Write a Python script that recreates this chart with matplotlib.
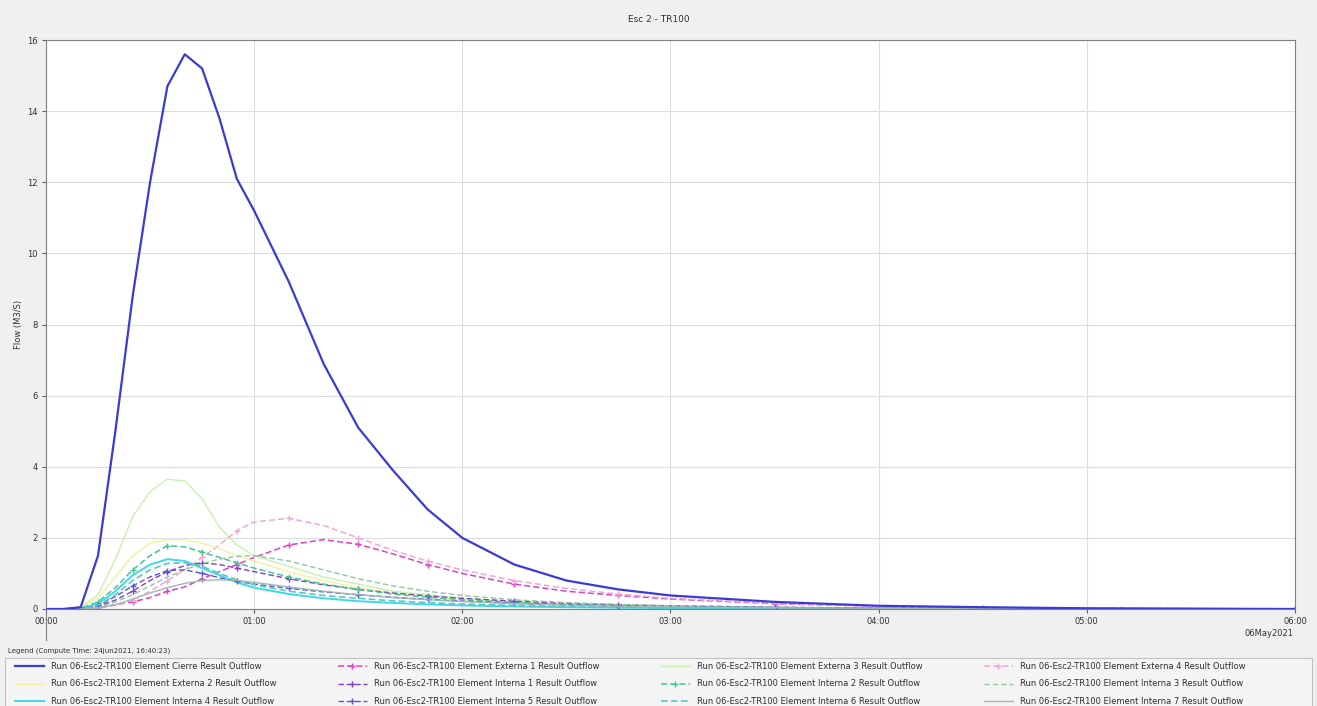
import numpy as np
import matplotlib
matplotlib.use("Agg")
import matplotlib.pyplot as plt
from matplotlib.lines import Line2D
from matplotlib.patches import Rectangle

# time axis in minutes from 00:00
minutes = [0, 5, 10, 15, 20, 25, 30, 35, 40, 45, 50, 55, 60, 70, 80, 90, 100,
           110, 120, 135, 150, 165, 180, 210, 240, 270, 300, 360]

cierre = [0, 0, 0.05, 1.5, 5.0, 8.8, 12.0, 14.7, 15.6, 15.2, 13.8, 12.1, 11.2, 9.2,
          6.9, 5.1, 3.9, 2.8, 2.0, 1.25, 0.8, 0.55, 0.38, 0.2, 0.09, 0.05, 0.02, 0]
externa1 = [0, 0, 0, 0.03, 0.12, 0.2, 0.32, 0.5, 0.62, 0.85, 1.05, 1.25, 1.45, 1.8,
            1.95, 1.82, 1.55, 1.25, 1.0, 0.7, 0.5, 0.38, 0.28, 0.15, 0.08, 0.04, 0.02, 0]
externa2 = [0, 0, 0.05, 0.3, 0.9, 1.5, 1.85, 1.95, 1.95, 1.85, 1.7, 1.5, 1.35, 1.05,
            0.8, 0.6, 0.45, 0.35, 0.27, 0.18, 0.12, 0.08, 0.06, 0.03, 0.01, 0, 0, 0]
externa3 = [0, 0, 0.05, 0.4, 1.4, 2.6, 3.3, 3.65, 3.6, 3.1, 2.3, 1.8, 1.5, 1.2,
            0.9, 0.7, 0.5, 0.4, 0.3, 0.2, 0.14, 0.1, 0.07, 0.04, 0.02, 0.01, 0, 0]
externa4 = [0, 0, 0, 0.02, 0.1, 0.25, 0.5, 0.8, 1.1, 1.45, 1.8, 2.2, 2.45, 2.55,
            2.35, 2.0, 1.65, 1.35, 1.1, 0.8, 0.58, 0.42, 0.3, 0.16, 0.08, 0.04, 0.02, 0]
interna1 = [0, 0, 0.01, 0.08, 0.25, 0.5, 0.8, 1.05, 1.22, 1.3, 1.25, 1.15, 1.05, 0.85,
            0.68, 0.55, 0.45, 0.37, 0.3, 0.22, 0.16, 0.12, 0.09, 0.05, 0.025, 0.012, 0.005, 0]
interna2 = [0, 0, 0.02, 0.2, 0.6, 1.1, 1.5, 1.78, 1.75, 1.6, 1.45, 1.3, 1.15, 0.9,
            0.7, 0.55, 0.42, 0.33, 0.26, 0.18, 0.12, 0.09, 0.06, 0.03, 0.015, 0.005, 0, 0]
interna3 = [0, 0, 0, 0.05, 0.2, 0.4, 0.65, 0.9, 1.1, 1.28, 1.4, 1.48, 1.5, 1.35,
            1.1, 0.85, 0.65, 0.5, 0.38, 0.26, 0.18, 0.13, 0.09, 0.05, 0.025, 0.012, 0.005, 0]
interna4 = [0, 0, 0.02, 0.15, 0.5, 0.95, 1.25, 1.4, 1.35, 1.15, 0.95, 0.75, 0.6, 0.42,
            0.3, 0.22, 0.17, 0.13, 0.1, 0.07, 0.05, 0.035, 0.025, 0.012, 0.005, 0, 0, 0]
interna5 = [0, 0, 0.01, 0.1, 0.35, 0.65, 0.9, 1.08, 1.1, 1.0, 0.88, 0.78, 0.7, 0.58,
            0.48, 0.4, 0.33, 0.27, 0.22, 0.16, 0.12, 0.09, 0.07, 0.04, 0.02, 0.01, 0.004, 0]
interna6 = [0, 0, 0.01, 0.1, 0.4, 0.8, 1.1, 1.28, 1.3, 1.2, 1.0, 0.82, 0.68, 0.5,
            0.38, 0.3, 0.23, 0.18, 0.14, 0.1, 0.07, 0.05, 0.035, 0.018, 0.008, 0.003, 0, 0]
interna7 = [0, 0, 0, 0.03, 0.12, 0.28, 0.45, 0.6, 0.72, 0.8, 0.82, 0.8, 0.75, 0.62,
            0.5, 0.4, 0.32, 0.26, 0.21, 0.15, 0.11, 0.08, 0.06, 0.035, 0.02, 0.01, 0.004, 0]

prefix = "Run 06-Esc2-TR100 Element "
names = ["Cierre", "Externa 1", "Externa 3", "Externa 4",
         "Externa 2", "Interna 1", "Interna 2", "Interna 3",
         "Interna 4", "Interna 5", "Interna 6", "Interna 7"]
series = [cierre, externa1, externa3, externa4,
          externa2, interna1, interna2, interna3,
          interna4, interna5, interna6, interna7]
# (color, linestyle, marker, linewidth)
styles = [("#3a3ad6", "-", None, 1.6),
          ("#e040c8", (0, (4, 2)), "+", 1.1),
          ("#c8f0b0", "-", None, 1.0),
          ("#f0a8d8", (0, (4, 2)), "+", 1.1),
          ("#f4f0a0", "-", None, 1.0),
          ("#8040c0", (0, (4, 2)), "+", 1.0),
          ("#40c890", (0, (4, 2)), "+", 1.1),
          ("#90c8a0", (0, (4, 2)), None, 1.0),
          ("#40d8e8", "-", None, 1.4),
          ("#5858d0", (0, (4, 2)), "+", 1.0),
          ("#58c8c8", (0, (4, 2)), None, 1.2),
          ("#a0b8b0", "-", None, 1.0)]

hours = np.array(minutes) / 60.0

fig = plt.figure(figsize=(13.17, 7.06), dpi=100, facecolor="#f0f0f0")
ax = fig.add_axes([0.0349, 0.1374, 0.9484, 0.8059])
ax.set_facecolor("white")

# small ones first, Cierre on top
order = list(range(1, 12)) + [0]
for i in order:
    c, ls, mk, lw = styles[i]
    ax.plot(hours, series[i], color=c, linestyle=ls, linewidth=lw,
            marker=mk, markersize=4, markevery=(3, 2), zorder=3 if i == 0 else 2)

ax.set_xlim(0, 6)
ax.set_ylim(0, 16)
ax.set_xticks(range(7))
ax.set_xticklabels(["00:00", "01:00", "02:00", "03:00", "04:00", "05:00", "06:00"])
ax.set_yticks(range(0, 17, 2))
ax.grid(True, color="#dcdcdc", linewidth=0.8)
ax.set_axisbelow(True)
ax.tick_params(labelsize=6, length=3, color="#606060", labelcolor="#303030", pad=3)
for s in ax.spines.values():
    s.set_color("#808080")
    s.set_linewidth(0.8)
ax.set_ylabel("Flow (M3/S)", fontsize=6, color="#303030", labelpad=3)

fig.text(0.5, 0.972, "Esc 2 - TR100", ha="center", va="center", fontsize=6.5, color="#303030")
fig.text(0.982, 0.103, "06May2021", ha="right", va="center", fontsize=6, color="#303030")
fig.add_artist(Line2D([0.0349, 0.0349], [0.094, 0.1374], color="#808080", linewidth=0.8))

fig.text(0.006, 0.078, "Legend (Compute Time: 24Jun2021, 16:40:23)", ha="left", va="center",
         fontsize=5, color="#303030")
# legend box spanning the full width
fig.add_artist(Rectangle((0.004, -0.01), 0.992, 0.078, transform=fig.transFigure,
                         facecolor="#f4f4f4", edgecolor="#c0c0c0", linewidth=0.8))

handles = []
for i in range(12):
    c, ls, mk, lw = styles[i]
    handles.append(Line2D([], [], color=c, linestyle=ls, linewidth=lw, marker=mk,
                          markersize=4, markevery=[1]))
labels = [prefix + n + " Result Outflow" for n in names]

# legend fills column by column, reorder so rows read like the picture
idx = [r * 4 + c for c in range(4) for r in range(3)]
leg = fig.legend([handles[i] for i in idx], [labels[i] for i in idx], ncol=4,
                 loc="upper left", bbox_to_anchor=(0.008, 0.068),
                 fontsize=6, frameon=False, borderpad=0.5, labelspacing=1.0,
                 handlelength=3.5, handletextpad=0.9, columnspacing=7.3,
                 borderaxespad=0)
for t in leg.get_texts():
    t.set_color("#303030")

fig.savefig("out.png", dpi=100, facecolor=fig.get_facecolor())
